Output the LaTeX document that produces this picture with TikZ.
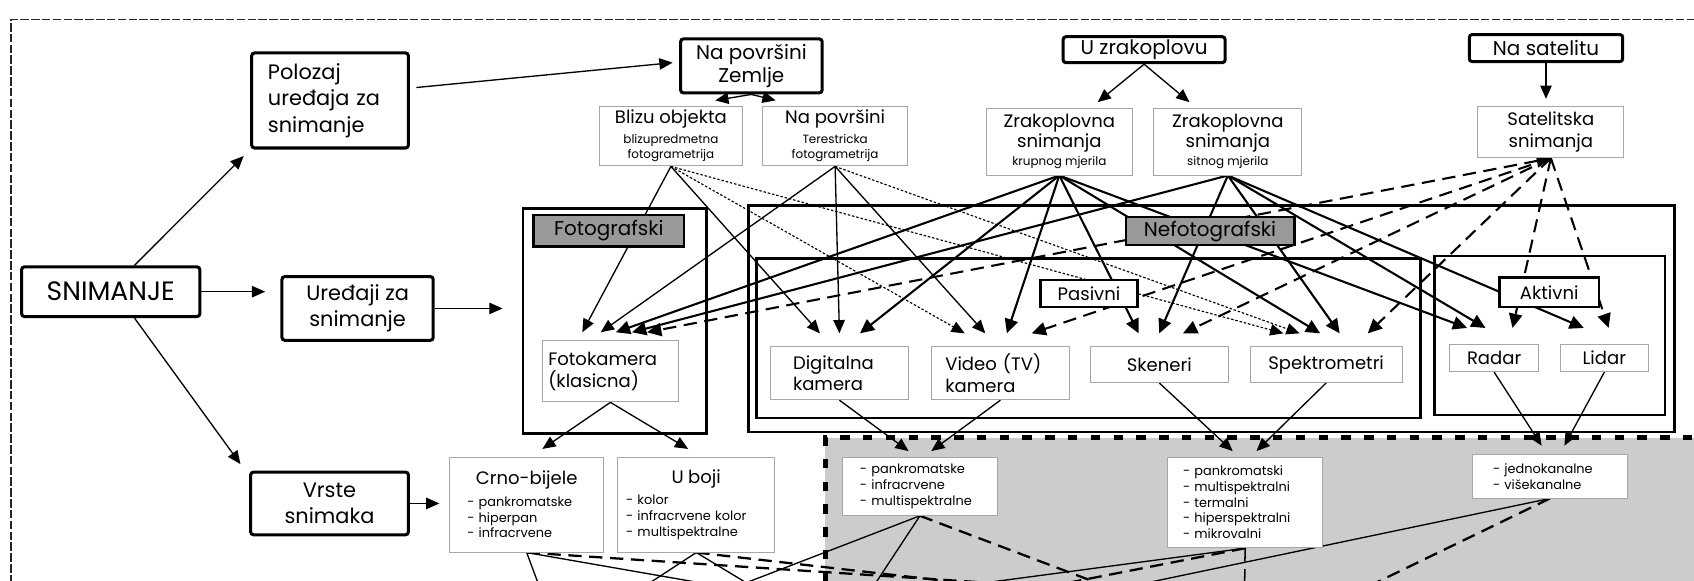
\documentclass[tikz,border=0pt]{standalone}
\usepackage{fontspec}
\setmainfont{Poppins}
\usetikzlibrary{arrows.meta, positioning, calc}
\pgfdeclarelayer{background}
\pgfsetlayers{background,main}

\newcommand{\subtxt}{\fontsize{6.3}{7.4}\selectfont}
\newcommand{\listtxt}{\fontsize{6.8}{8.3}\selectfont}

\tikzset{
  sz/.style 2 args={minimum width=#1*0.02cm, minimum height=#2*0.02cm},
  bigbox/.style={draw, line width=1.6pt, rounded corners=1.5pt, fill=white, inner sep=2pt, font=\fontsize{11}{14}\selectfont},
  thinbox/.style={draw=black!35, line width=0.5pt, fill=white, inner sep=2pt, font=\fontsize{9.5}{11.5}\selectfont},
  listbox/.style={thinbox, align=left, font=\listtxt},
  grouplabel/.style={draw, line width=1.3pt, fill=black!40, inner sep=1pt, font=\fontsize{10.5}{12}\selectfont},
  sublabel/.style={draw, line width=1.3pt, fill=white, inner sep=1pt, font=\fontsize{9.5}{11}\selectfont},
  frame/.style={draw, line width=1.4pt, inner sep=0pt},
  thinarr/.style={line width=0.7pt, -{Triangle[length=7pt,width=6pt]}},
  dotarr/.style={thinarr, line width=0.6pt, dash pattern=on 1.3pt off 1pt},
  boldarr/.style={line width=1.1pt, -{Triangle[length=7.5pt,width=7pt]}},
  dasharr/.style={boldarr, dash pattern=on 7pt off 4pt},
  cutline/.style={line width=0.7pt},
  cutdash/.style={line width=1.2pt, dash pattern=on 7pt off 4pt}
}

\begin{document}
\begin{tikzpicture}[x=0.02cm, y=-0.02cm]
\useasboundingbox (0,0) rectangle (1568,537);

% left column
\node[bigbox, sz={165}{46}, font=\fontsize{14}{16}\selectfont] (snim) at (102.5,270) {SNIMANJE};
\node[bigbox, sz={145}{88}, text width=2.3cm, align=left] (poloz) at (305.5,93) {Polozaj\\uređaja za\\snimanje};
\node[bigbox, sz={140}{59}, align=center] (ured) at (331,285.5) {Uređaji za\\snimanje};
\node[bigbox, sz={146}{58}, align=center] (vrste) at (305,466) {Vrste\\snimaka};

% top row
\node[bigbox, sz={131}{50}, align=center, font=\fontsize{10.5}{12.5}\selectfont] (zemlja) at (695.5,61) {Na površini\\Zemlje};
\node[bigbox, sz={150}{24}, inner ysep=1pt, font=\fontsize{10.5}{12.5}\selectfont] (uzrak) at (1059,46) {U zrakoplovu};
\node[bigbox, sz={142}{25}, inner ysep=1pt, font=\fontsize{10.5}{12.5}\selectfont] (nasat) at (1431,44.5) {Na satelitu};

\node[thinbox, sz={132}{52}, align=center] (blizu) at (621,126) {Blizu objekta\\[-1pt]{\subtxt blizupredmetna}\\[-3.5pt]{\subtxt fotogrametrija}};
\node[thinbox, sz={134}{52}, align=center] (teres) at (773,126) {Na površini\\[-1pt]{\subtxt Terestricka}\\[-3.5pt]{\subtxt fotogrametrija}};
\node[thinbox, sz={135}{62}, align=center] (krup) at (980.5,131) {Zrakoplovna\\[-1pt]snimanja\\[-2pt]{\subtxt krupnog mjerila}};
\node[thinbox, sz={137}{62}, align=center] (sitn) at (1136.5,131) {Zrakoplovna\\[-1pt]snimanja\\[-2pt]{\subtxt sitnog mjerila}};
\node[thinbox, sz={135}{47}, align=center] (satel) at (1435.5,122.5) {Satelitska\\snimanja};

% device groups
\node[frame, sz={170}{208}] (fotofr) at (569,297) {};
\node[frame, sz={857}{210}] (nefofr) at (1121.5,295) {};
\node[frame, sz={615}{148}] (pasfr) at (1007.5,313) {};
\node[frame, sz={213}{147}] (aktfr) at (1434.5,310.5) {};

\node[grouplabel, sz={139}{29}] (fotolab) at (563.5,213.5) {Fotografski};
\node[grouplabel, sz={156}{26}] (nefolab) at (1120,214) {Nefotografski};
\node[sublabel, sz={90}{25}] (paslab) at (1008,271.5) {Pasivni};
\node[sublabel, sz={92}{27}] (aktlab) at (1434,270.5) {Aktivni};

\node[thinbox, sz={126}{57}, text width=2.3cm, align=left] (fotok) at (565,343.5) {Fotokamera\\(klasicna)};
\node[thinbox, sz={128}{49}, text width=1.72cm, align=left] (digi) at (777,345.5) {Digitalna\\kamera};
\node[thinbox, sz={128}{49}, text width=2.04cm, align=left] (video) at (926,345.5) {Video (TV)\\kamera};
\node[thinbox, sz={128}{33}] (sken) at (1073,337.5) {Skeneri};
\node[thinbox, sz={141}{33}] (spek) at (1227.5,337.5) {Spektrometri};
\node[thinbox, sz={82}{25}] (radar) at (1383,331.5) {Radar};
\node[thinbox, sz={82}{25}] (lidar) at (1485,331.5) {Lidar};

% image types
\node[listbox, sz={143}{88}, text width=2.2cm] (crno) at (487.5,467) {\makebox[\linewidth]{\fontsize{9.5}{11}\selectfont Crno-bijele}\\[3pt]- pankromatske\\- hiperpan\\- infracrvene};
\node[listbox, sz={145}{88}, text width=2.6cm] (uboji) at (644.5,467) {\makebox[\linewidth]{\fontsize{9.5}{11}\selectfont U boji}\\[3pt]- kolor\\- infracrvene kolor\\- multispektralne};
\node[listbox, sz={143}{54}, text width=2.22cm] (ndig) at (851.5,450) {- pankromatske\\- infracrvene\\- multispektralne};
\node[listbox, sz={143}{84}, text width=2.3cm] (nsken) at (1152.5,465) {- pankromatski\\- multispektralni\\- termalni\\- hiperspektralni\\- mikrovalni};
\node[listbox, sz={143}{40}, text width=2.1cm] (nrad) at (1434.5,441) {- jednokanalne\\- višekanalne};

\coordinate (c1) at (500,545);
\coordinate (c2) at (680,545);
\coordinate (c3) at (1000,545);
\coordinate (c4) at (593,545);
\coordinate (c5) at (700,545);
\coordinate (c6) at (940,545);
\coordinate (c7) at (676,545);
\coordinate (c8) at (807,545);
\coordinate (c9) at (1030,545);
\coordinate (c10) at (870,545);
\coordinate (c11) at (960,545);
\coordinate (c12) at (1152,545);
\coordinate (c13) at (1035,545);
\coordinate (c14) at (1262,545);

\begin{pgfonlayer}{background}
% frames of the sheet
\draw[black!85, line width=0.8pt, dash pattern=on 4.5pt off 1.2pt] (10,560) -- (10,18) -- (1580,18);
\fill[black!20] (764,405) rectangle (1580,560);
\draw[line width=2.6pt, dash pattern=on 5pt off 7pt] (764,560) -- (764,405) -- (1580,405);

% SNIMANJE
\draw[thinarr] ($(snim.north)+(22,0)$) -- ($(poloz.south west)+(-6,6)$);
\draw[thinarr] ($(snim.south)+(22,0)$) -- ($(vrste.north west)+(-8,-6)$);
\draw[thinarr, shorten >=8pt] (snim.east) -- (snim.east -| ured.west);
\draw[thinarr, shorten >=10pt] (ured.east) -- (ured.east -| fotofr.west);
\draw[thinarr, shorten >=5pt] (vrste.east) -- (vrste.east -| crno.west);
\draw[thinarr] ($(poloz.east)+(6,-12)$) -- ($(zemlja.west)+(-6,-3)$);

% positions
\draw[thinarr] (zemlja.south) -- ($(blizu.north)+(41,-5)$);
\draw[thinarr] (zemlja.south) -- ($(teres.north)+(-55,-5)$);
\draw[thinarr] (uzrak.south) -- ($(krup.north)+(35.5,-5)$);
\draw[thinarr] (uzrak.south) -- ($(sitn.north)+(-35.5,-5)$);
\draw[thinarr, shorten >=4pt] (nasat.south) -- (nasat.south |- satel.north);

% to Fotokamera
\draw[thinarr] (blizu.south) -- ($(fotok.north)+(-26,-7)$);
\draw[thinarr] (teres.south) -- ($(fotok.north)+(-9,-7)$);
\draw[boldarr] (krup.south) -- ($(fotok.north)+(5,-7)$);
\draw[boldarr] (sitn.south) -- ($(fotok.north)+(20,-7)$);
\draw[dasharr, {Triangle[length=7.5pt,width=7pt]}-{Triangle[length=7.5pt,width=7pt]}] (satel.south) -- ($(fotok.north)+(34,-7)$);
% to Digitalna
\draw[thinarr] (blizu.south) -- ($(digi.north)+(-18,-12)$);
\draw[thinarr] (teres.south) -- ($(digi.north)+(0,-12)$);
\draw[boldarr] (krup.south) -- ($(digi.north)+(19,-12)$);
% to Video
\draw[dotarr] (blizu.south) -- ($(video.north)+(-33,-12)$);
\draw[thinarr] (teres.south) -- ($(video.north)+(-14,-12)$);
\draw[boldarr] (krup.south) -- ($(video.north)+(6,-12)$);
\draw[dasharr] (satel.south) -- ($(video.north)+(29,-12)$);
% to Skeneri
\draw[boldarr] (krup.south) -- ($(sken.north)+(-19,-12)$);
\draw[boldarr] (sitn.south) -- ($(sken.north)+(0,-12)$);
\draw[dasharr] (satel.south) -- ($(sken.north)+(22,-12)$);
% to Spektrometri
\draw[dotarr] (blizu.south) -- ($(spek.north)+(-39.5,-12)$);
\draw[dotarr] (teres.south) -- ($(spek.north)+(-24.5,-12)$);
\draw[boldarr] (krup.south) -- ($(spek.north)+(-5.5,-12)$);
\draw[boldarr] (sitn.south) -- ($(spek.north)+(12.5,-12)$);
\draw[dasharr] (satel.south) -- ($(spek.north)+(38.5,-12)$);
% to Radar, Lidar
\draw[boldarr] (krup.south) -- ($(radar.north)+(-25,-15)$);
\draw[boldarr] (sitn.south) -- ($(radar.north)+(-8,-15)$);
\draw[dasharr] (satel.south) -- ($(radar.north)+(17,-15)$);
\draw[boldarr] (sitn.south) -- ($(lidar.north)+(-19,-15)$);
\draw[dasharr] (satel.south) -- ($(lidar.north)+(4,-15)$);

% devices to image types
\draw[thinarr] (fotok.south) -- ($(crno.north)+(14.5,-7)$);
\draw[thinarr] (fotok.south) -- ($(uboji.north)+(-7.5,-7)$);
\draw[thinarr] (digi.south) -- ($(ndig.north)+(-10.5,-5)$);
\draw[thinarr] (video.south) -- ($(ndig.north)+(10.5,-5)$);
\draw[thinarr] (sken.south) -- ($(nsken.north)+(-11.5,-5)$);
\draw[thinarr] (spek.south) -- ($(nsken.north)+(10.5,-5)$);
\draw[thinarr] (radar.south) -- ($(nrad.north)+(-7.5,-8)$);
\draw[thinarr] (lidar.south) -- ($(nrad.north)+(13.5,-8)$);

% leaving the sheet
\draw[cutline] (crno.south) -- (c1);
\draw[cutline] (crno.south) -- (c2);
\draw[cutdash] (crno.south) -- (c3);
\draw[cutline] (uboji.south) -- (c4);
\draw[cutline] (uboji.south) -- (c5);
\draw[cutdash] (uboji.south) -- (c6);
\draw[cutline] (ndig.south) -- (c7);
\draw[cutline] (ndig.south) -- (c8);
\draw[cutdash] (ndig.south) -- (c9);
\draw[cutline] (nsken.south) -- (c10);
\draw[cutdash] (nsken.south) -- (c11);
\draw[cutdash, line width=0.8pt] (nsken.south) -- (c12);
\draw[cutline] (nrad.south) -- (c13);
\draw[cutdash] (nrad.south) -- (c14);
\end{pgfonlayer}
\end{tikzpicture}
\end{document}
